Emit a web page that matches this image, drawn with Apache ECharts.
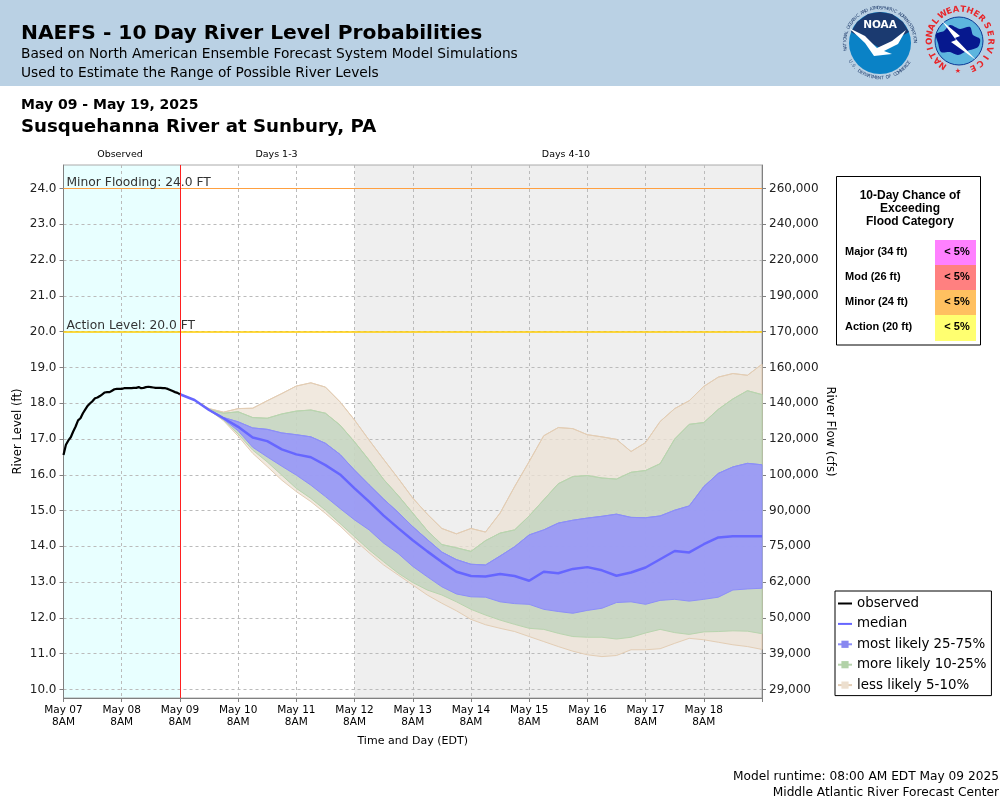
<!DOCTYPE html>
<html>
<head>
<meta charset="utf-8">
<title>NAEFS - 10 Day River Level Probabilities</title>
<script src="https://cdn.jsdelivr.net/npm/echarts@6/dist/echarts.min.js"></script>
<style>
  html, body { margin: 0; padding: 0; background: #fff; }
  #main { width: 1000px; height: 800px; }
</style>
</head>
<body>
<div id="main"></div>
<script>
// ticks: one label per day from May 07 8AM, hours since then on the x axis
var dayLabels = ['May 07', 'May 08', 'May 09', 'May 10', 'May 11', 'May 12', 'May 13', 'May 14', 'May 15', 'May 16', 'May 17', 'May 18', ''];
var flowLabels = { 10: '29,000', 11: '39,000', 12: '50,000', 13: '62,000', 14: '75,000', 15: '90,000', 16: '100,000', 17: '120,000', 18: '140,000', 19: '160,000', 20: '170,000', 21: '190,000', 22: '220,000', 23: '240,000', 24: '260,000' };

// observed stage, hourly from May 07 8AM to May 09 8AM
var observed = [16.55, 16.84, 16.96, 17.05, 17.21, 17.35, 17.52, 17.58, 17.72, 17.83, 17.93, 18.00, 18.06, 18.14, 18.16, 18.20, 18.25, 18.30, 18.31, 18.31, 18.35, 18.39, 18.40, 18.40, 18.40, 18.42, 18.42, 18.42, 18.42, 18.43, 18.43, 18.45, 18.42, 18.43, 18.45, 18.46, 18.45, 18.44, 18.43, 18.43, 18.43, 18.42, 18.42, 18.40, 18.37, 18.34, 18.31, 18.29, 18.25];

// forecast percentiles, every 6 hours from May 09 8AM to May 19 8AM
var median = [18.25, 18.09, 17.81, 17.58, 17.34, 17.04, 16.94, 16.71, 16.57, 16.49, 16.27, 16.01, 15.62, 15.25, 14.86, 14.51, 14.17, 13.86, 13.56, 13.29, 13.17, 13.16, 13.23, 13.17, 13.04, 13.29, 13.25, 13.37, 13.42, 13.33, 13.18, 13.27, 13.41, 13.64, 13.87, 13.83, 14.06, 14.25, 14.28, 14.28, 14.28];
var q95 = [18.25, 18.09, 17.85, 17.75, 17.85, 17.86, 18.07, 18.27, 18.48, 18.57, 18.45, 18.04, 17.53, 16.97, 16.43, 15.90, 15.35, 14.90, 14.50, 14.35, 14.50, 14.40, 14.93, 15.67, 16.37, 17.09, 17.32, 17.29, 17.12, 17.06, 16.99, 16.65, 16.90, 17.49, 17.85, 18.07, 18.47, 18.73, 18.83, 18.78, 19.09];
var q90 = [18.25, 18.09, 17.83, 17.72, 17.76, 17.60, 17.58, 17.70, 17.78, 17.81, 17.72, 17.39, 16.92, 16.41, 15.87, 15.42, 14.93, 14.44, 14.05, 13.96, 13.86, 14.16, 14.37, 14.46, 14.85, 15.30, 15.75, 15.95, 15.98, 15.91, 15.88, 16.07, 16.12, 16.31, 17.00, 17.41, 17.46, 17.83, 18.12, 18.35, 18.24];
var q75 = [18.25, 18.09, 17.82, 17.60, 17.48, 17.31, 17.27, 17.17, 17.12, 17.06, 16.88, 16.57, 16.13, 15.72, 15.32, 14.95, 14.55, 14.19, 13.84, 13.63, 13.50, 13.48, 13.73, 13.99, 14.32, 14.46, 14.65, 14.73, 14.79, 14.84, 14.90, 14.81, 14.80, 14.85, 15.01, 15.13, 15.67, 16.04, 16.22, 16.32, 16.28];
var q25 = [18.25, 18.09, 17.81, 17.55, 17.23, 16.77, 16.50, 16.24, 15.99, 15.71, 15.39, 15.06, 14.74, 14.46, 14.09, 13.80, 13.44, 13.15, 12.87, 12.67, 12.59, 12.58, 12.45, 12.40, 12.38, 12.24, 12.18, 12.13, 12.21, 12.27, 12.43, 12.45, 12.38, 12.49, 12.52, 12.47, 12.52, 12.58, 12.78, 12.81, 12.83];
var q10 = [18.25, 18.09, 17.81, 17.53, 17.14, 16.69, 16.36, 15.99, 15.62, 15.34, 15.01, 14.64, 14.27, 13.90, 13.57, 13.25, 12.99, 12.78, 12.64, 12.45, 12.24, 12.08, 11.94, 11.82, 11.71, 11.68, 11.57, 11.48, 11.46, 11.46, 11.41, 11.46, 11.58, 11.68, 11.59, 11.54, 11.61, 11.62, 11.64, 11.63, 11.56];
var q5 = [18.25, 18.09, 17.81, 17.51, 17.08, 16.60, 16.23, 15.85, 15.53, 15.25, 14.92, 14.57, 14.18, 13.82, 13.48, 13.20, 12.92, 12.64, 12.41, 12.20, 11.96, 11.81, 11.71, 11.62, 11.48, 11.34, 11.20, 11.07, 10.97, 10.92, 10.95, 11.11, 11.11, 11.14, 11.29, 11.43, 11.39, 11.32, 11.25, 11.20, 11.12];

// flood category table
var floodRows = ['Major (34 ft)', 'Mod (26 ft)', 'Minor (24 ft)', 'Action (20 ft)'];
var floodChance = ['< 5%', '< 5%', '< 5%', '< 5%'];
var floodColors = ['#ff80ff', '#ff8080', '#ffc060', '#ffff70'];

var FONT = '"DejaVu Sans"';
var levelTicks = Object.keys(flowLabels).map(Number);

function hourly(values) {
    return values.map(function (v, i) { return [i, v]; });
}
function fromMay09(values) {
    return values.map(function (v, i) { return [48 + i * 6, v]; });
}

// filled range between two percentile lines
function band(lower, upper, fill, stroke) {
    return {
        type: 'custom',
        coordinateSystem: 'cartesian2d',
        silent: true,
        z: 2,
        data: lower.map(function (v, i) { return [48 + i * 6, v, upper[i]]; }),
        encode: { x: 0, y: [1, 2] },
        renderItem: function (params, api) {
            if (params.dataIndex !== 0) return null;
            var pts = [];
            var i;
            for (i = 0; i < lower.length; i++) pts.push(api.coord([48 + i * 6, upper[i]]));
            for (i = lower.length - 1; i >= 0; i--) pts.push(api.coord([48 + i * 6, lower[i]]));
            return {
                type: 'polygon',
                shape: { points: pts },
                style: { fill: fill, stroke: stroke, lineWidth: 1 }
            };
        }
    };
}

// top edge of a band, it also gives the legend its line and square
function edge(name, values, stroke, square) {
    return {
        name: name,
        type: 'line',
        data: fromMay09(values),
        symbol: 'rect',
        showSymbol: false,
        silent: true,
        z: 3,
        itemStyle: { color: square },
        lineStyle: { color: stroke, width: 1 }
    };
}

// text around a circle, one glyph at a time
function ringText(text, cx, cy, r, startDeg, stepDeg, size, color, bold, inward) {
    var out = [];
    for (var i = 0; i < text.length; i++) {
        var deg = startDeg + i * stepDeg;
        var a = deg * Math.PI / 180;
        out.push({
            type: 'text',
            x: cx + r * Math.sin(a),
            y: cy - r * Math.cos(a),
            rotation: inward ? Math.PI - a : -a,
            silent: true,
            style: {
                text: text.charAt(i), fill: color, textAlign: 'center', textVerticalAlign: 'middle',
                font: (bold ? 'bold ' : '') + size + 'px ' + FONT
            }
        });
    }
    return out;
}

function label(x, y, text, font, fill, align) {
    return {
        type: 'text', x: x, y: y, silent: true,
        style: { text: text, font: font, fill: fill || '#000', textAlign: align || 'left', textVerticalAlign: 'middle' }
    };
}

function shape(points, fill, smooth) {
    return { type: 'polygon', shape: { points: points, smooth: smooth || 0 }, style: { fill: fill }, silent: true };
}

var graphics = [
    { type: 'rect', shape: { x: 0, y: 0, width: 1000, height: 86 }, style: { fill: '#bad1e4' }, silent: true },
    label(21, 34, 'NAEFS - 10 Day River Level Probabilities', 'bold 20.25px ' + FONT),
    label(21, 54.5, 'Based on North American Ensemble Forecast System Model Simulations', '13.75px ' + FONT),
    label(21, 73.5, 'Used to Estimate the Range of Possible River Levels', '13.75px ' + FONT),
    label(21, 105.5, 'May 09 - May 19, 2025', 'bold 14px ' + FONT),
    label(21, 127, 'Susquehanna River at Sunbury, PA', 'bold 18.2px ' + FONT),
    label(120, 155, 'Observed', '9.5px ' + FONT, '#000', 'center'),
    label(276.5, 155, 'Days 1-3', '9.5px ' + FONT, '#000', 'center'),
    label(566, 155, 'Days 4-10', '9.5px ' + FONT, '#000', 'center'),
    label(999, 777, 'Model runtime: 08:00 AM EDT May 09 2025', '12.2px ' + FONT, '#000', 'right'),
    label(999, 792.5, 'Middle Atlantic River Forecast Center', '12.2px ' + FONT, '#000', 'right'),

    // flood table
    { type: 'rect', shape: { x: 836.5, y: 176.5, width: 144, height: 168.5 }, style: { fill: '#fff', stroke: '#000', lineWidth: 1 }, silent: true },
    label(910, 195.5, '10-Day Chance of', 'bold 12px "Liberation Sans"', '#000', 'center'),
    label(910, 208.5, 'Exceeding', 'bold 12px "Liberation Sans"', '#000', 'center'),
    label(910, 221.5, 'Flood Category', 'bold 12px "Liberation Sans"', '#000', 'center')
];
floodRows.forEach(function (row, i) {
    graphics.push({ type: 'rect', shape: { x: 935, y: 240 + i * 25, width: 41, height: i === 3 ? 26 : 25 }, style: { fill: floodColors[i] }, silent: true });
    graphics.push(label(845, 251.5 + i * 25, row, 'bold 11px "Liberation Sans"'));
    graphics.push(label(957, 251.5 + i * 25, floodChance[i], 'bold 11px "Liberation Sans"', '#000', 'center'));
});

// NOAA logo
graphics.push({ type: 'circle', shape: { cx: 880, cy: 43, r: 31 }, style: { fill: '#0a82c6' }, silent: true });
graphics.push(shape([[851, 32], [857, 22], [868, 14], [880, 12], [892, 14], [903, 22], [909, 32], [880, 48]], '#1b3a70'));
graphics.push(shape([[849, 28], [865, 36], [877, 48], [892, 41], [906, 30], [898, 44], [884, 51], [892, 54], [874, 56], [865, 43]], '#fff'));
graphics.push(label(880, 25, 'NOAA', 'bold 10.5px ' + FONT, '#fff', 'center'));
graphics = graphics.concat(ringText('NATIONAL OCEANIC AND ATMOSPHERIC ADMINISTRATION', 880, 43, 35, -100, 4.07, 4.5, '#24406f', false, false));
graphics = graphics.concat(ringText('U.S. DEPARTMENT OF COMMERCE', 880, 43, 35, 238, -4.4, 4.5, '#24406f', false, true));

// NWS logo
graphics.push({ type: 'circle', shape: { cx: 959, cy: 41, r: 24 }, style: { fill: '#5db5de', stroke: '#0b3a96', lineWidth: 1 }, silent: true });
graphics.push(shape([[938, 43], [936, 34], [944, 31], [950, 25], [960, 29], [970, 27], [973, 35], [980, 39], [978, 47], [967, 51], [958, 55], [950, 52], [941, 52]], '#06188e', 0.3));
graphics.push(shape([[942, 21], [960, 36], [955, 38], [976, 60], [951, 42], [956, 40]], '#fff'));
graphics = graphics.concat(ringText('NATIONAL', 960, 40, 30.5, -146, 13.4, 8.5, '#e8262a', true, false));
graphics = graphics.concat(ringText('WEATHER', 960, 40, 30.5, -34, 13.2, 8.5, '#e8262a', true, false));
graphics = graphics.concat(ringText('SERVICE', 960, 40, 30.5, 62, 15.5, 8.5, '#e8262a', true, false));
graphics.push(label(958, 71.5, '★', '7px ' + FONT, '#e8262a', 'center'));

var myChart = echarts.init(document.getElementById('main'), null, { renderer: 'canvas' });

var gridLine = { show: true, lineStyle: { color: '#bbb', type: [3, 3], width: 1 } };

var option = {
    backgroundColor: '#fff',
    animation: false,
    textStyle: { fontFamily: FONT },
    grid: { left: 63.5, right: 238, top: 165, bottom: 102, show: true, borderColor: '#aaa', borderWidth: 1, outerBoundsMode: 'none' },
    legend: {
        orient: 'vertical',
        left: 835,
        top: 591,
        padding: [6, 5, 4, 2],
        itemGap: 7.4,
        itemWidth: 14,
        itemHeight: 9,
        borderColor: '#000',
        borderWidth: 1,
        backgroundColor: '#fff',
        selectedMode: false,
        textStyle: { fontFamily: FONT, fontSize: 13.4, color: '#000' },
        data: [
            { name: 'observed', itemStyle: { color: 'transparent', opacity: 0 } },
            { name: 'median', itemStyle: { color: 'transparent', opacity: 0 } },
            { name: 'most likely 25-75%', lineStyle: { width: 2 } },
            { name: 'more likely 10-25%', lineStyle: { width: 2 } },
            { name: 'less likely 5-10%', lineStyle: { width: 2 } }
        ]
    },
    xAxis: {
        type: 'value',
        min: 0,
        max: 288,
        interval: 24,
        name: 'Time and Day (EDT)',
        nameLocation: 'middle',
        nameMoveOverlap: false,
        nameGap: 38,
        nameTextStyle: { fontSize: 11, color: '#000' },
        axisLine: { lineStyle: { color: '#808080', width: 1 } },
        axisTick: { length: 4, lineStyle: { color: '#808080' } },
        axisLabel: {
            color: '#000',
            fontSize: 10.5,
            lineHeight: 12,
            margin: 6,
            hideOverlap: false,
            formatter: function (v) {
                var name = dayLabels[v / 24];
                return name ? name + '\n8AM' : '';
            }
        },
        splitLine: { show: true, showMinLine: false, showMaxLine: false, lineStyle: gridLine.lineStyle }
    },
    yAxis: [
        {
            type: 'value',
            min: 9.7625,
            max: 24.657,
            name: 'River Level (ft)',
            nameLocation: 'middle',
            nameMoveOverlap: false,
            nameGap: 39.5,
            nameTextStyle: { fontSize: 11.7, color: '#000' },
            axisLine: { show: true, lineStyle: { color: '#808080', width: 1 } },
            axisTick: { show: true, length: 4, lineStyle: { color: '#808080' }, customValues: levelTicks },
            axisLabel: {
                color: '#222',
                fontSize: 12,
                margin: 7,
                customValues: levelTicks,
                formatter: function (v) { return Number(v).toFixed(1); }
            },
            splitLine: gridLine
        },
        {
            type: 'value',
            min: 9.7625,
            max: 24.657,
            position: 'right',
            name: 'River Flow (cfs)',
            nameLocation: 'middle',
            nameMoveOverlap: false,
            nameRotate: -90,
            nameGap: 62,
            nameTextStyle: { fontSize: 11.7, color: '#000' },
            axisLine: { show: true, lineStyle: { color: '#808080', width: 1 } },
            axisTick: { show: true, length: 4, lineStyle: { color: '#808080' }, customValues: levelTicks },
            axisLabel: {
                color: '#222',
                fontSize: 12,
                margin: 7,
                customValues: levelTicks,
                formatter: function (v) { return flowLabels[v] || ''; }
            },
            splitLine: { show: false }
        }
    ],
    series: [
        // observed and days 4-10 background zones, under the grid lines
        {
            type: 'line',
            silent: true,
            z: -1,
            data: [[0, 10]],
            symbol: 'none',
            lineStyle: { width: 0 },
            markArea: {
                silent: true,
                z: -1,
                data: [
                    [{ xAxis: 0, itemStyle: { color: '#e8ffff', opacity: 1 } }, { xAxis: 48 }],
                    [{ xAxis: 120, itemStyle: { color: '#efefef', opacity: 1 } }, { xAxis: 288 }]
                ]
            }
        },
        band(q5, q95, 'rgba(236,226,212,.75)', '#e3cdb4'),
        band(q10, q90, 'rgba(187,210,187,.7)', '#b8d4ae'),
        band(q25, q75, 'rgba(145,143,255,.8)', '#8c8ef8'),
        edge('less likely 5-10%', q95, '#e3cdb4', '#ecdfcf'),
        edge('more likely 10-25%', q90, '#b8d4ae', '#b2d2a8'),
        edge('most likely 25-75%', q75, '#8c8ef8', '#8888f0'),
        {
            name: 'median',
            type: 'line',
            data: fromMay09(median),
            symbol: 'rect',
            showSymbol: false,
            silent: true,
            z: 4,
            itemStyle: { color: '#6666ff' },
            lineStyle: { color: '#6666ff', width: 2.5 }
        },
        {
            name: 'observed',
            type: 'line',
            data: hourly(observed),
            symbol: 'rect',
            showSymbol: false,
            silent: true,
            z: 5,
            itemStyle: { color: '#000' },
            lineStyle: { color: '#000', width: 2.2 }
        },
        // flood levels and the forecast start line
        {
            type: 'line',
            silent: true,
            z: 6,
            data: [[0, 10]],
            symbol: 'none',
            lineStyle: { width: 0 },
            markLine: {
                silent: true,
                symbol: 'none',
                precision: 1,
                data: [
                    {
                        yAxis: 24,
                        lineStyle: { color: '#ffa040', type: 'solid', width: 1.2 },
                        label: { formatter: 'Minor Flooding: 24.0 FT', position: 'insideStartTop', distance: [3, 0], color: '#333', fontSize: 12.3, fontFamily: FONT }
                    },
                    {
                        yAxis: 20,
                        lineStyle: { color: '#ffcc00', type: 'solid', width: 1.5 },
                        label: { formatter: 'Action Level: 20.0 FT', position: 'insideStartTop', distance: [3, 0], color: '#333', fontSize: 12.3, fontFamily: FONT }
                    },
                    {
                        xAxis: 48,
                        lineStyle: { color: '#ff2020', type: 'solid', width: 1 },
                        label: { show: false }
                    }
                ]
            }
        }
    ],
    graphic: { elements: graphics }
};

myChart.setOption(option);
</script>
</body>
</html>
